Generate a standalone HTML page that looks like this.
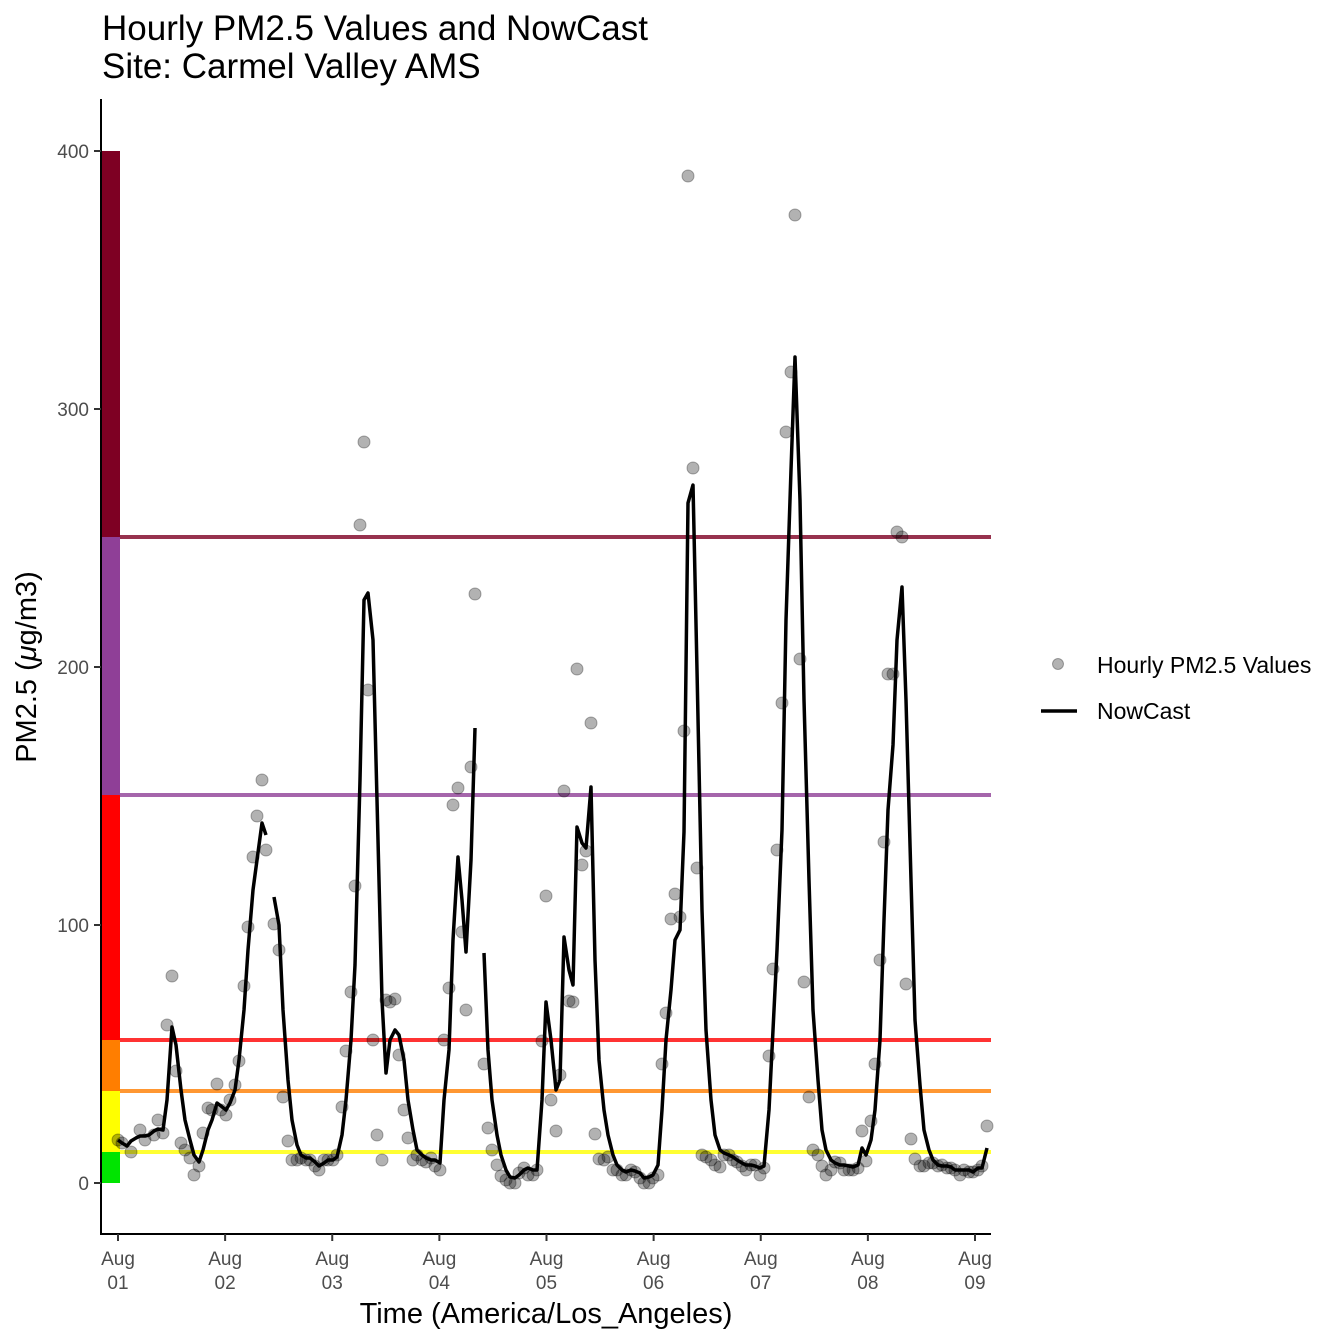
<!DOCTYPE html>
<html><head><style>body{margin:0;background:#fff}svg{display:block}</style></head><body>
<svg width="1344" height="1344" xmlns="http://www.w3.org/2000/svg" font-family="Liberation Sans, Arial, sans-serif">
<rect width="1344" height="1344" fill="#fff"/>
<text x="102" y="40" font-size="35" fill="#000">Hourly PM2.5 Values and NowCast</text>
<text x="102" y="78" font-size="35" fill="#000">Site: Carmel Valley AMS</text>
<rect x="101" y="1152" width="19" height="31" fill="#00e400"/>
<rect x="101" y="1091" width="19" height="61" fill="#ffff00"/>
<rect x="101" y="1040" width="19" height="51" fill="#ff7e00"/>
<rect x="101" y="795" width="19" height="245" fill="#ff0000"/>
<rect x="101" y="537" width="19" height="258" fill="#8f3f97"/>
<rect x="101" y="151" width="19" height="386" fill="#7e0023"/>
<g stroke-width="4" opacity="0.8">
<line x1="120" x2="991" y1="1152" y2="1152" stroke="#ffff00"/>
<line x1="120" x2="991" y1="1091" y2="1091" stroke="#ff7e00"/>
<line x1="120" x2="991" y1="1040" y2="1040" stroke="#ff0000"/>
<line x1="120" x2="991" y1="795" y2="795" stroke="#8f3f97"/>
<line x1="120" x2="991" y1="537" y2="537" stroke="#7e0023"/>
</g>
<g id="pts" fill="#000" fill-opacity="0.3" stroke="#000" stroke-opacity="0.3" stroke-width="1"></g>
<g fill="none" stroke="#000" stroke-width="3.5" stroke-linejoin="round">
<polyline points="118,1140 122,1143 127,1146 131,1141 136,1138 140,1136 145,1136 149,1135 154,1131 158,1129 163,1130 167,1100 172,1027 176,1045 181,1090 185,1120 190,1140 194,1155 199,1162 203,1150 208,1130 212,1120 217,1103 221,1106 226,1110 230,1103 235,1090 239,1060 244,1010 248,950 253,890 257,860 262,823 266,835"/>
<polyline points="274,897 279,925 283,1010 288,1080 292,1120 297,1145 301,1155 306,1158 310,1158 315,1162 319,1166 324,1163 328,1160 333,1160 337,1157 342,1135 346,1100 351,1040 355,965 360,780 364,600 368,593 373,640 377,800 382,1000 386,1073 390,1040 395,1030 399,1035 404,1060 408,1100 413,1130 417,1150 422,1155 426,1158 431,1160 435,1160 440,1163 444,1100 449,1050 453,940 458,857 462,900 466,952 471,860 475,728"/>
<polyline points="484,953 488,1050 492,1100 497,1135 501,1155 506,1170 510,1177 515,1178 519,1175 524,1170 528,1168 533,1170 537,1170 542,1100 546,1002 551,1040 556,1090 560,1080 564,937 569,970 573,985 577,827 582,843 586,848 591,787 595,960 599,1060 604,1110 608,1135 613,1155 617,1165 622,1170 626,1172 631,1170 635,1171 640,1173 644,1178 649,1177 653,1175 658,1165 662,1110 666,1040 671,990 675,940 680,930 684,832 688,503 693,485 697,670 702,910 706,1030 711,1100 715,1135 720,1150 724,1153 729,1155 733,1157 737,1160 742,1163 746,1165 751,1165 755,1166 760,1168 764,1166 769,1110 773,1030 777,950 782,830 786,620 791,470 795,357 800,500 804,700 809,880 813,1010 818,1080 822,1130 826,1150 831,1160 835,1163 840,1165 844,1165 849,1166 853,1167 858,1165 862,1148 866,1155 871,1140 875,1110 880,1040 884,920 888,810 893,745 897,640 902,587 906,700 911,880 915,1020 920,1085 924,1130 929,1150 933,1160 938,1165 942,1166 947,1166 951,1167 955,1170 960,1170 964,1170 969,1170 973,1172 978,1168 982,1168 987,1148"/>
</g>
<g stroke="#000" stroke-width="2">
<line x1="101" y1="99" x2="101" y2="1235"/>
<line x1="100" y1="1234" x2="991" y2="1234"/>
</g>
<g stroke="#333" stroke-width="2">
<line x1="94" x2="101" y1="1183" y2="1183"/><line x1="94" x2="101" y1="925" y2="925"/><line x1="94" x2="101" y1="667" y2="667"/><line x1="94" x2="101" y1="409" y2="409"/><line x1="94" x2="101" y1="151" y2="151"/>
</g>
<g font-size="19" fill="#4d4d4d" text-anchor="end">
<text x="89" y="1190">0</text><text x="89" y="932">100</text><text x="89" y="674">200</text><text x="89" y="416">300</text><text x="89" y="158">400</text>
</g>
<g id="xt" font-size="19" fill="#4d4d4d" text-anchor="middle" stroke-width="2"></g>
<text x="546" y="1323" font-size="29" text-anchor="middle">Time (America/Los_Angeles)</text>
<text transform="translate(36,667) rotate(-90)" font-size="29" text-anchor="middle">PM2.5 (<tspan font-style="italic">μ</tspan>g/m3)</text>
<circle cx="1058" cy="664" r="5.5" fill="#000" fill-opacity="0.3" stroke="#000" stroke-opacity="0.3"/>
<text x="1097" y="673" font-size="23">Hourly PM2.5 Values</text>
<line x1="1041" x2="1077" y1="711" y2="711" stroke="#000" stroke-width="3.5"/>
<text x="1097" y="719" font-size="23">NowCast</text>
<script>
var P=[[118,1140],[122,1143],[131,1152],[140,1130],[145,1140],[154,1135],[158,1120],[163,1133],[167,1025],[172,976],[176,1071],[181,1143],[185,1150],[190,1158],[194,1175],[199,1166],[203,1133],[208,1108],[212,1110],[217,1084],[221,1110],[226,1115],[230,1100],[235,1085],[239,1061],[244,986],[248,927],[253,857],[257,816],[262,780],[266,850],[274,924],[279,950],[283,1097],[288,1141],[292,1160],[297,1160],[301,1158],[306,1160],[310,1160],[315,1166],[319,1170],[324,1160],[328,1160],[333,1160],[337,1155],[342,1107],[346,1051],[351,992],[355,886],[360,525],[364,442],[368,690],[373,1040],[377,1135],[382,1160],[386,1000],[390,1002],[395,999],[399,1055],[404,1110],[408,1138],[413,1160],[417,1155],[422,1160],[426,1162],[431,1158],[435,1166],[440,1170],[444,1040],[449,988],[453,805],[458,788],[462,932],[466,1010],[471,767],[475,594],[484,1064],[488,1128],[492,1150],[497,1165],[501,1176],[506,1180],[510,1183],[515,1183],[519,1173],[524,1168],[528,1175],[533,1175],[537,1170],[542,1041],[546,896],[551,1100],[556,1131],[560,1075],[564,791],[569,1001],[573,1002],[577,669],[582,865],[586,851],[591,723],[595,1134],[599,1159],[604,1160],[608,1157],[613,1170],[617,1170],[622,1175],[626,1175],[631,1170],[635,1172],[640,1178],[644,1183],[649,1183],[653,1178],[658,1175],[662,1064],[666,1013],[671,919],[675,894],[680,917],[684,731],[688,176],[693,468],[697,868],[702,1155],[706,1157],[711,1160],[715,1165],[720,1167],[724,1155],[729,1155],[733,1160],[737,1162],[742,1166],[746,1170],[751,1165],[755,1165],[760,1175],[764,1168],[769,1056],[773,969],[777,850],[782,703],[786,432],[791,372],[795,215],[800,659],[804,982],[809,1097],[813,1150],[818,1155],[822,1166],[826,1175],[831,1170],[835,1162],[840,1163],[844,1170],[849,1170],[853,1170],[858,1168],[862,1131],[866,1161],[871,1121],[875,1064],[880,960],[884,842],[888,674],[893,674],[897,532],[902,537],[906,984],[911,1139],[915,1159],[920,1166],[924,1166],[929,1163],[933,1163],[938,1166],[942,1165],[947,1168],[951,1168],[955,1170],[960,1175],[964,1170],[969,1172],[973,1172],[978,1170],[982,1166],[987,1126]];
var ns="http://www.w3.org/2000/svg",g=document.getElementById("pts");
P.forEach(function(p){var c=document.createElementNS(ns,"circle");c.setAttribute("cx",p[0]);c.setAttribute("cy",p[1]);c.setAttribute("r",6);g.appendChild(c);});
var xt=document.getElementById("xt");
for(var i=0;i<9;i++){var x=118+i*107.125;
var l=document.createElementNS(ns,"line");l.setAttribute("x1",x);l.setAttribute("x2",x);l.setAttribute("y1",1234);l.setAttribute("y2",1241);l.setAttribute("stroke","#333");xt.appendChild(l);
var t=document.createElementNS(ns,"text");t.setAttribute("x",x);t.setAttribute("y",1265);t.textContent="Aug";xt.appendChild(t);
var t2=document.createElementNS(ns,"text");t2.setAttribute("x",x);t2.setAttribute("y",1289);t2.textContent="0"+(i+1);xt.appendChild(t2);}
</script>
</svg>
</body></html>
